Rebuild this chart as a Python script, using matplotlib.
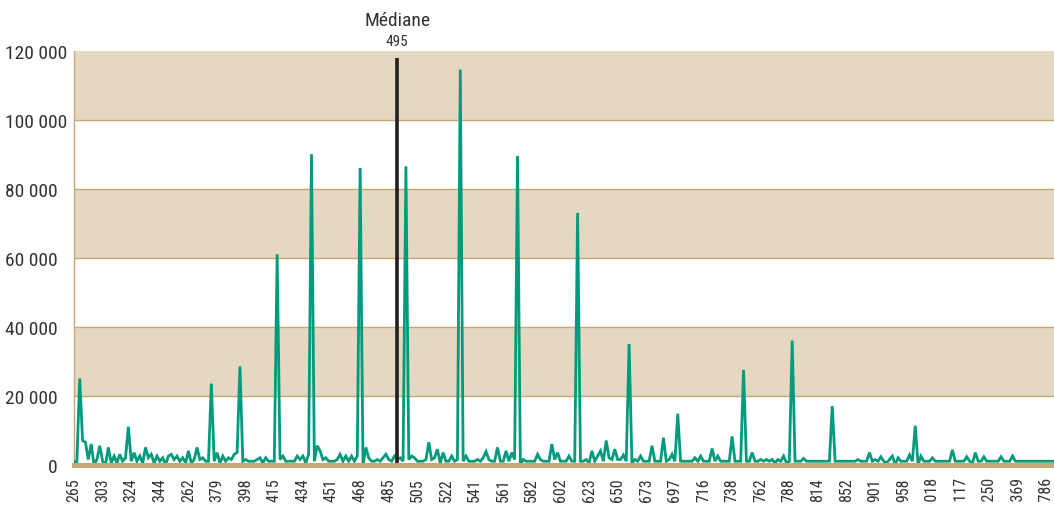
import matplotlib
matplotlib.use("Agg")
import matplotlib.pyplot as plt
from matplotlib import font_manager
from matplotlib.transforms import ScaledTranslation

installed = {f.name for f in font_manager.fontManager.ttflist}
narrow = [n for n in ['Roboto Condensed', 'Liberation Sans Narrow', 'DejaVu Sans Condensed'] if n in installed]
plt.rcParams['font.family'] = narrow + ['Roboto', 'DejaVu Sans']
condensed = bool(narrow)

# series values, 10 points per labelled category
values = [
    900, 800, 25000, 7000, 6500, 1500, 6000, 0, 1500, 5500,
    1000, 0, 5000, 500, 2500, 500, 3000, 1000, 2000, 11000,
    1000, 3500, 1000, 2500, 500, 5000, 2000, 3000, 500, 2500,
    1000, 2000, 0, 2500, 3000, 1500, 2500, 1000, 2000, 500,
    4000, 500, 1500, 5000, 1500, 2000, 1000, 1000, 23500, 1000,
    3500, 500, 2500, 1000, 2000, 1500, 3000, 3500, 28500, 1000,
    1500, 1000, 1000, 1000, 1500, 2000, 500, 2000, 1000, 1000,
    1000, 61000, 1500, 2500, 1000, 1000, 1000, 1000, 2500, 1500,
    2500, 500, 3000, 90000, 1000, 5500, 4000, 1500, 2000, 1000,
    1000, 1000, 1500, 3000, 1000, 2500, 1000, 2500, 1000, 2500,
    86000, 0, 5000, 2000, 1000, 1000, 1500, 1000, 2000, 3000,
    1500, 1000, 2500, 1500, 2000, 1000, 86500, 1500, 2500, 2000,
    1000, 1000, 1000, 1500, 6500, 1500, 2000, 4500, 500, 3500,
    1000, 1000, 2500, 1000, 1500, 114500, 1000, 2500, 1000, 1000,
    1000, 1500, 1000, 2000, 3800, 1500, 1000, 1000, 5000, 1000,
    1000, 4000, 1000, 3500, 1500, 89500, 0, 1500, 1000, 1000,
    1000, 1000, 3000, 1500, 1000, 1000, 1000, 6000, 1500, 3500,
    1000, 1000, 1000, 2500, 1000, 1000, 73000, 1000, 1000, 1500,
    500, 4000, 1000, 2500, 4000, 1000, 7000, 2000, 1500, 4500,
    1500, 1500, 2800, 1000, 35000, 500, 1500, 1000, 2500, 1000,
    1000, 1000, 5500, 1000, 1000, 1000, 7800, 1000, 1500, 3000,
    1000, 14800, 1000, 1000, 1000, 1000, 1000, 2000, 1000, 2500,
    1000, 1000, 1000, 4700, 1000, 2500, 1000, 1000, 1000, 1000,
    8200, 1000, 1000, 1000, 27500, 1000, 1000, 3500, 1000, 1000,
    1500, 1000, 1500, 1000, 1500, 500, 1500, 1000, 2500, 500,
    1000, 36000, 1000, 1000, 1000, 1800, 1000, 1000, 1000, 1000,
    1000, 1000, 1000, 1000, 1000, 17000, 1000, 1000, 1000, 1000,
    1000, 1000, 1000, 1000, 1500, 1000, 1000, 1000, 3500, 1000,
    1500, 1000, 2300, 1000, 500, 1500, 2500, 0, 2000, 1000,
    1000, 1000, 2800, 1000, 11300, 0, 2500, 1000, 1000, 1000,
    2000, 1000, 1000, 1000, 1000, 1000, 1000, 4300, 1000, 1000,
    1000, 1000, 2300, 1000, 500, 3500, 1000, 1000, 2300, 1000,
    1000, 1000, 1000, 1000, 2300, 1000, 1000, 1000, 2500, 1000,
    1000, 1000, 1000, 1000, 1000, 1000, 1000, 1000, 1000, 1000,
    1000, 1000, 1000,
]

tick_labels = ['265', '303', '324', '344', '262', '379', '398', '415', '434', '451',
               '468', '485', '505', '522', '541', '561', '582', '602', '623', '650',
               '673', '697', '716', '738', '762', '788', '814', '852', '901', '958',
               '1 018', '1 117', '1 250', '1 369', '1 786']
tick_step = 10

median_label = '495'
median_index = 113
median_height = 118000

y_ticks = [0, 20000, 40000, 60000, 80000, 100000, 120000]
y_tick_labels = ['0', '20 000', '40 000', '60 000', '80 000', '100 000', '120 000']

tan = '#E4D8C2'
brown = '#C8A777'
teal = '#009B7D'
text_col = '#333333'

y_fs = 14 if condensed else 12
x_fs = 11.5 if condensed else 10

fig = plt.figure(figsize=(10.54, 5.06), dpi=100)
ax = fig.add_axes([74 / 1054, 40.3 / 506, 980 / 1054, 414 / 506])

# alternating bands
for k in range(len(y_ticks) - 1):
    lo, hi = y_ticks[k], y_ticks[k + 1]
    if k % 2 == 1:
        ax.axhspan(lo, hi, color=tan, lw=0, zorder=0)
for yv in y_ticks[1:-1]:
    ax.axhline(yv, color=brown, lw=1.0, zorder=1)

x = list(range(len(values)))
ax.plot(x, values, color=teal, lw=2.0, solid_joinstyle='miter', zorder=3)
ax.vlines(median_index, 0, median_height, color='#231F20', lw=2.6, zorder=4)

ax.axhline(0, color=brown, lw=3.6, zorder=5, clip_on=False)

ax.set_xlim(0, len(values) - 0.5)
ax.set_ylim(0, 120000)

ax.set_xticks(range(0, len(tick_labels) * tick_step, tick_step))
ax.set_xticklabels(tick_labels, rotation=90, fontsize=x_fs, color=text_col)
ax.set_yticks(y_ticks)
ax.set_yticklabels(y_tick_labels, fontsize=y_fs, color=text_col)
ax.tick_params(axis='both', length=0)
ax.tick_params(axis='x', pad=9)
ax.tick_params(axis='y', pad=12)
for lab in ax.get_yticklabels():
    if len(lab.get_text()) > 6:
        lab.set_transform(lab.get_transform() + ScaledTranslation(0.10, 0, fig.dpi_scale_trans))

for s in ['top', 'right', 'bottom']:
    ax.spines[s].set_visible(False)
ax.spines['left'].set_color(brown)
ax.spines['left'].set_linewidth(1.0)

ax.annotate(median_label, (median_index, median_height), xytext=(0, 12),
            textcoords='offset points', ha='center', va='center', fontsize=11, color=text_col)
ax.annotate('Médiane', (median_index, median_height), xytext=(0, 27),
            textcoords='offset points', ha='center', va='center', fontsize=14, color=text_col)

fig.savefig('out.png', dpi=100)
